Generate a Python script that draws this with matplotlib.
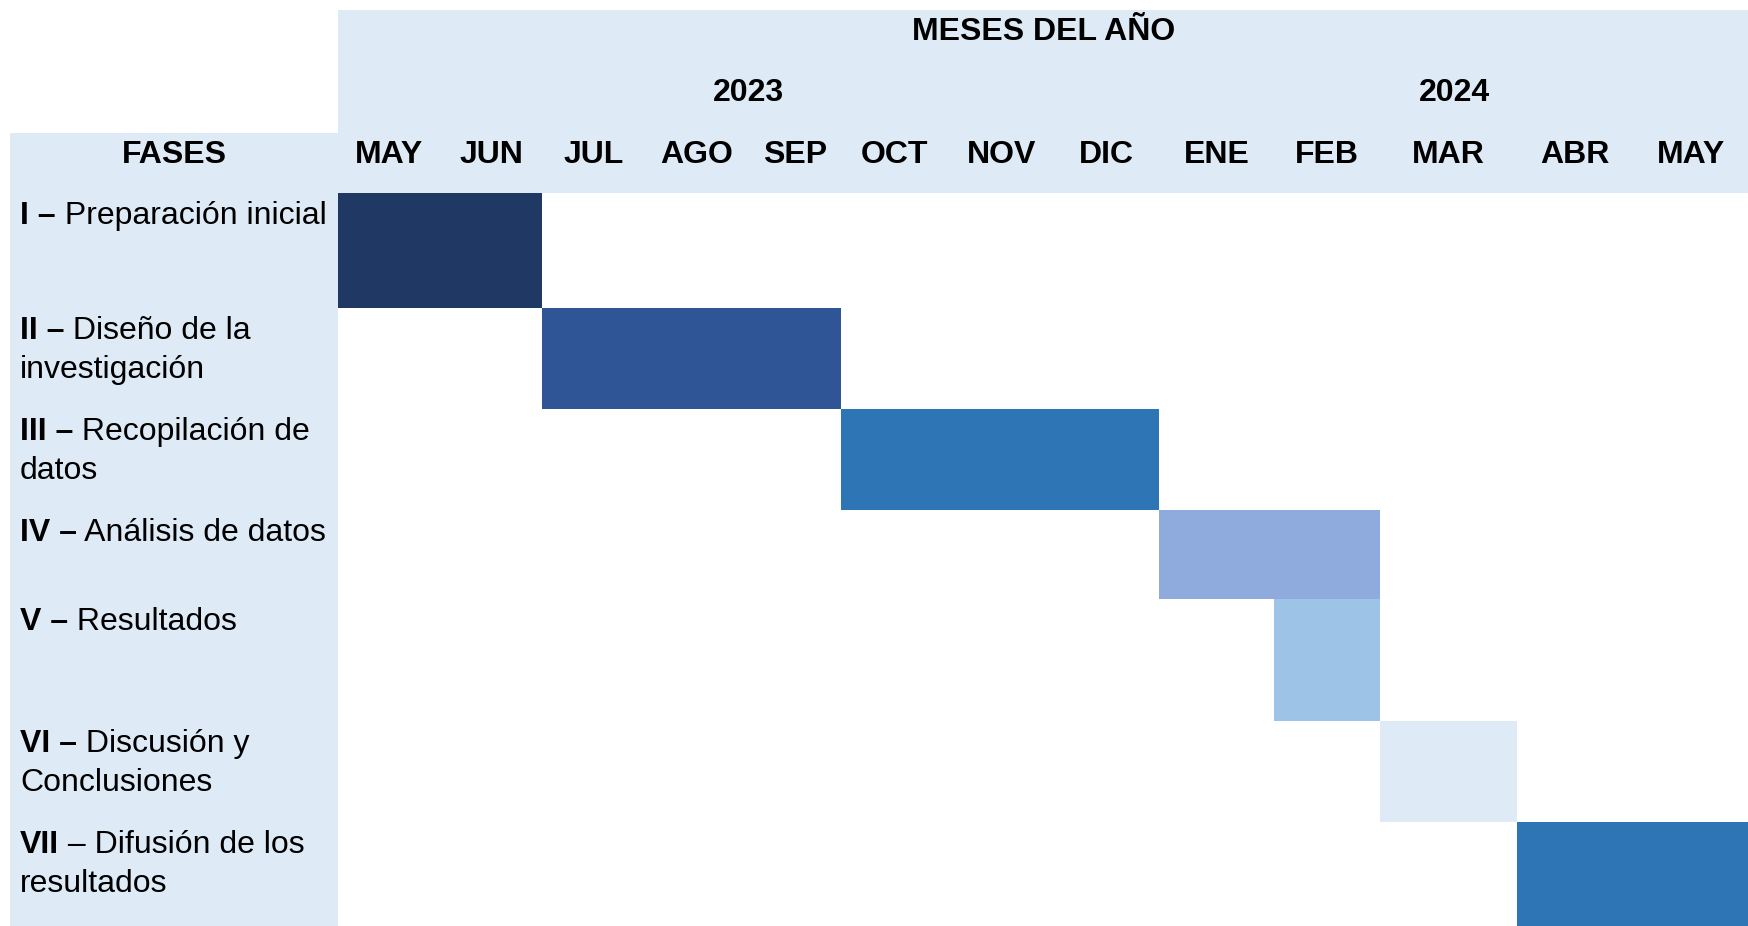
import matplotlib
matplotlib.use("Agg")
import matplotlib.pyplot as plt
import numpy as np

plt.rcParams['font.family'] = ['Liberation Sans', 'DejaVu Sans']

# datos del cronograma
meses = ["MAY", "JUN", "JUL", "AGO", "SEP", "OCT", "NOV", "DIC",
         "ENE", "FEB", "MAR", "ABR", "MAY"]
anios = ["2023", "2024"]
anio_desde = [0, 8]
anio_hasta = [7, 12]

fase_num = ["I –", "II –", "III –", "IV –", "V –", "VI –", "VII"]
fase_txt = [["Preparación inicial"],
            ["Diseño de la", "investigación"],
            ["Recopilación de", "datos"],
            ["Análisis de datos"],
            ["Resultados"],
            ["Discusión y", "Conclusiones"],
            ["– Difusión de los", "resultados"]]
inicio = [0, 2, 5, 8, 9, 10, 11]
fin = [1, 4, 7, 9, 9, 10, 12]
colores = ["#203864", "#2F5597", "#2E75B6", "#8FAADC", "#9DC3E6", "#DEEBF7", "#2E75B6"]

# geometria de la tabla (px)
ancho_col = [102, 102, 103, 104, 92, 108, 105, 105, 115, 106, 137, 116, 116]
alto_fila = [115, 101, 101, 89, 122, 101, 104]
x0, y0 = 338, 193
fondo = "#DEEBF7"

bordes_x = x0 + np.concatenate([[0], np.cumsum(ancho_col)])
bordes_y = y0 + np.concatenate([[0], np.cumsum(alto_fila)])

fig = plt.figure(figsize=(17.49, 9.26), dpi=100)
ax = fig.add_axes([0, 0, 1, 1])
ax.set_xlim(0, 1749)
ax.set_ylim(926, 0)
ax.axis("off")

# fondos del encabezado y de la columna de fases
ax.barh(10, bordes_x[-1] - x0, height=y0 - 10, left=x0, align="edge", color=fondo, lw=0)
ax.barh(133, x0 - 10, height=926 - 133, left=10, align="edge", color=fondo, lw=0)

# barras del gantt
for i in range(len(fase_num)):
    izq = bordes_x[inicio[i]]
    ax.barh(bordes_y[i], bordes_x[fin[i] + 1] - izq, height=alto_fila[i], left=izq,
            align="edge", color=colores[i], lw=0)

fs = 23
ax.text((x0 + bordes_x[-1]) / 2, 40, "MESES DEL AÑO", ha="center", va="baseline",
        fontsize=fs, fontweight="bold")
for a, d, h in zip(anios, anio_desde, anio_hasta):
    ax.text((bordes_x[d] + bordes_x[h + 1]) / 2, 101, a, ha="center", va="baseline",
            fontsize=fs, fontweight="bold")
for j, m in enumerate(meses):
    ax.text((bordes_x[j] + bordes_x[j + 1]) / 2, 163, m, ha="center", va="baseline",
            fontsize=fs, fontweight="bold")
ax.text((10 + x0) / 2, 163, "FASES", ha="center", va="baseline", fontsize=fs, fontweight="bold")

fig.canvas.draw()
r = fig.canvas.get_renderer()
for i in range(len(fase_num)):
    base = bordes_y[i] + 31
    t = ax.text(20, base, fase_num[i], ha="left", va="baseline", fontsize=fs, fontweight="bold")
    x_fin = t.get_window_extent(renderer=r).x1
    ax.text(x_fin, base, " " + fase_txt[i][0], ha="left", va="baseline", fontsize=fs)
    for k, linea in enumerate(fase_txt[i][1:]):
        ax.text(20, base + 39 * (k + 1), linea, ha="left", va="baseline", fontsize=fs)

fig.savefig("out.png", dpi=100, facecolor="white")
